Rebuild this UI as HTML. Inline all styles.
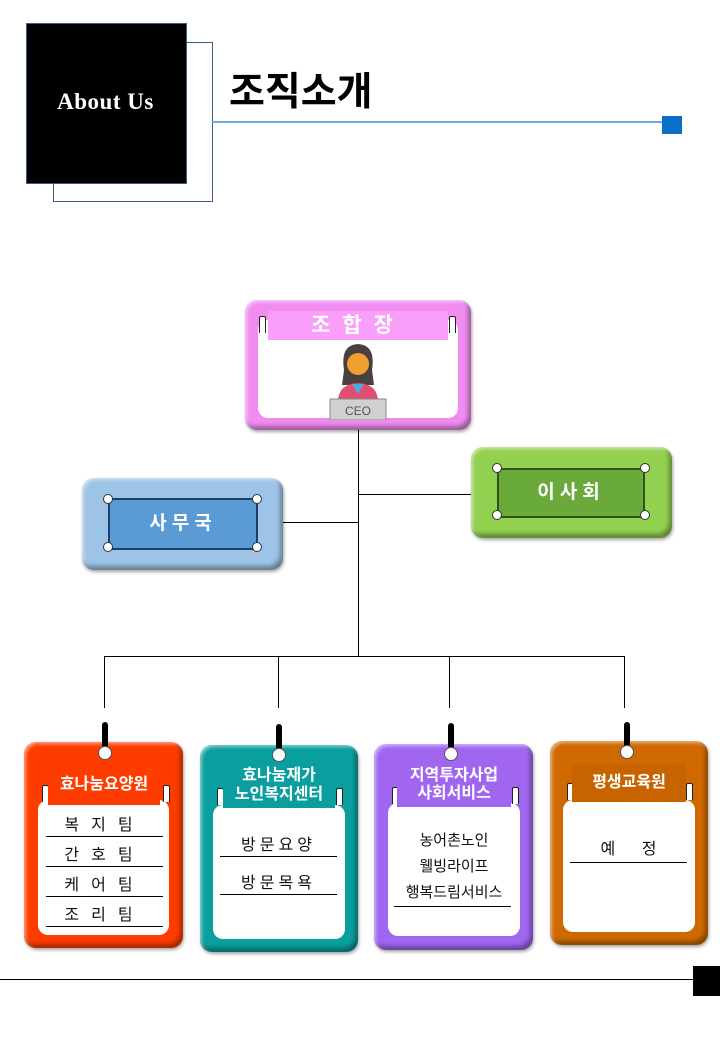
<!DOCTYPE html>
<html><head><meta charset="utf-8"><style>
body{margin:0;width:720px;height:1040px;background:#fff;position:relative;overflow:hidden;font-family:"Liberation Sans","Noto Sans CJK KR",sans-serif}
.a{position:absolute}
.ln{position:absolute;background:#000}
.card{position:absolute;border-radius:12px;box-shadow:inset 2px 2px 3px rgba(255,255,255,.5),inset -3px -4px 4px rgba(0,0,0,.35),1px 2px 3px rgba(0,0,0,.35)}
.inner{position:absolute;background:#fff;border-radius:10px}
.peg{position:absolute;width:6px;height:26px;background:#000;border-radius:3px}
.ring{position:absolute;width:12px;height:12px;border-radius:50%;background:#fff;border:1px solid #555}
.hd{position:absolute;color:#fff;font-weight:bold;text-align:center}
.row{position:absolute;text-align:center;font-size:16px;color:#111;border-bottom:1px solid #000}
.clip{position:absolute;width:5px;height:16px;border:1.5px solid #222;border-bottom:none;background:#fff;border-radius:2px 2px 0 0}
.dot{position:absolute;width:8px;height:8px;border-radius:50%;background:#fff;border:1.5px solid #333}
</style></head><body>
<div class="a" style="left:53px;top:42px;width:158px;height:158px;border:1px solid #3a5a8a"></div>
<div class="a" style="left:26px;top:23px;width:159px;height:159px;background:#000;border:1px solid #3a5a8a"></div>
<div class="a" style="left:26px;top:89px;width:159px;text-align:center;color:#fff;font-family:'Liberation Serif',serif;font-weight:bold;font-size:23px;letter-spacing:0.5px">About Us</div>
<div class="a" style="left:229px;top:64px;font-size:39px;font-weight:bold;color:#000;font-family:'Noto Sans CJK KR',sans-serif;line-height:50px">조직소개</div>
<div class="a" style="left:212px;top:121px;width:452px;height:2px;background:#6fa8d6"></div>
<div class="a" style="left:662px;top:116px;width:20px;height:18px;background:#0b6fc6"></div>

<div class="ln" style="left:358px;top:430px;width:1px;height:227px"></div>
<div class="ln" style="left:358px;top:494px;width:114px;height:1px"></div>
<div class="ln" style="left:283px;top:522px;width:76px;height:1px"></div>
<div class="ln" style="left:104px;top:656px;width:521px;height:1px"></div>
<div class="ln" style="left:104px;top:656px;width:1px;height:52px"></div>
<div class="ln" style="left:278px;top:656px;width:1px;height:52px"></div>
<div class="ln" style="left:449px;top:656px;width:1px;height:52px"></div>
<div class="ln" style="left:624px;top:656px;width:1px;height:52px"></div>

<div class="card" style="left:245px;top:300px;width:226px;height:130px;background:#f08cf0"></div>
<div class="inner" style="left:258px;top:320px;width:200px;height:98px"></div>
<div class="clip" style="left:259px;top:316px"></div><div class="clip" style="left:449px;top:316px"></div>
<div class="hd" style="left:268px;top:311px;width:180px;height:29px;background:#f99ef9;font-size:21px;line-height:29px;letter-spacing:12px">조합장</div>
<svg class="a" style="left:320px;top:340px" width="76" height="80" viewBox="0 0 76 80">
<path d="M24 30 Q20 5 38 4 Q56 5 52 30 L54 45 L22 45Z" fill="#4a4040"/>
<circle cx="38" cy="24" r="11" fill="#f0a030"/>
<path d="M18 62 Q18 44 38 43 Q58 44 58 62Z" fill="#e0506e"/>
<path d="M32 44 L38 54 L44 44Z" fill="#4fa8e0"/>
<rect x="10" y="59" width="56" height="21" fill="#d0d0d0" stroke="#888"/>
<text x="38" y="75" font-size="12" text-anchor="middle" fill="#555" font-family="Liberation Sans">CEO</text>
</svg>

<div class="card" style="left:471px;top:447px;width:201px;height:91px;background:#92d050"></div>
<div class="a" style="left:497px;top:468px;width:148px;height:50px;background:#6aaa3a;border:2px solid #2f5418;box-sizing:border-box;border-radius:3px;color:#fff;font-weight:bold;font-size:19px;text-align:center;line-height:46px;letter-spacing:5px">이사회</div>
<div class="dot" style="left:492px;top:463px"></div><div class="dot" style="left:640px;top:463px"></div>
<div class="dot" style="left:492px;top:510px"></div><div class="dot" style="left:640px;top:510px"></div>

<div class="card" style="left:82px;top:478px;width:201px;height:92px;background:#9dc3e6"></div>
<div class="a" style="left:108px;top:498px;width:150px;height:52px;background:#5b9bd5;border:2px solid #1f3f66;box-sizing:border-box;border-radius:3px;color:#fff;font-weight:bold;font-size:19px;text-align:center;line-height:48px;letter-spacing:5px">사무국</div>
<div class="dot" style="left:103px;top:494px"></div><div class="dot" style="left:252px;top:494px"></div>
<div class="dot" style="left:103px;top:542px"></div><div class="dot" style="left:252px;top:542px"></div>

<div class="card" style="left:24px;top:742px;width:159px;height:206px;background:#ff3c00"></div>
<div class="inner" style="left:38px;top:800px;width:131px;height:135px"></div>
<div class="clip" style="left:42px;top:785px"></div><div class="clip" style="left:163px;top:785px"></div>
<div class="hd" style="left:48px;top:770px;width:112px;height:35px;background:#ff3c00;font-size:16px;line-height:30px">효나눔요양원</div>
<div class="row" style="left:46px;top:815px;width:117px;line-height:21px;letter-spacing:12px">복지팀</div>
<div class="row" style="left:46px;top:845px;width:117px;line-height:21px;letter-spacing:12px">간호팀</div>
<div class="row" style="left:46px;top:875px;width:117px;line-height:21px;letter-spacing:12px">케어팀</div>
<div class="row" style="left:46px;top:905px;width:117px;line-height:21px;letter-spacing:12px">조리팀</div>

<div class="card" style="left:200px;top:745px;width:158px;height:207px;background:#0a9e9e"></div>
<div class="inner" style="left:213px;top:805px;width:132px;height:134px"></div>
<div class="clip" style="left:217px;top:788px"></div><div class="clip" style="left:336px;top:788px"></div>
<div class="hd" style="left:223px;top:766px;width:112px;height:42px;background:#0a9e9e;font-size:16px;line-height:19px">효나눔재가<br>노인복지센터</div>
<div class="row" style="left:220px;top:835px;width:117px;line-height:21px;letter-spacing:4px">방문요양</div>
<div class="row" style="left:220px;top:873px;width:117px;line-height:21px;letter-spacing:4px">방문목욕</div>

<div class="card" style="left:374px;top:744px;width:159px;height:206px;background:#a066f0"></div>
<div class="inner" style="left:388px;top:803px;width:132px;height:133px"></div>
<div class="clip" style="left:392px;top:787px"></div><div class="clip" style="left:512px;top:787px"></div>
<div class="hd" style="left:397px;top:767px;width:114px;height:40px;background:#a066f0;font-size:16px;line-height:18px">지역투자사업<br>사회서비스</div>
<div class="a" style="left:388px;top:828px;width:132px;text-align:center;font-size:15px;line-height:26px;color:#111">농어촌노인<br>웰빙라이프<br>행복드림서비스</div>
<div class="ln" style="left:394px;top:906px;width:117px;height:1px"></div>

<div class="card" style="left:550px;top:741px;width:158px;height:204px;background:#d06a00"></div>
<div class="inner" style="left:563px;top:800px;width:132px;height:132px"></div>
<div class="clip" style="left:567px;top:783px"></div><div class="clip" style="left:686px;top:783px"></div>
<div class="hd" style="left:572px;top:764px;width:114px;height:38px;background:#c86400;font-size:16px;line-height:38px">평생교육원</div>
<div class="a" style="left:570px;top:839px;width:117px;text-align:center;font-size:16px;line-height:21px;color:#111;word-spacing:22px">예 정</div>
<div class="ln" style="left:570px;top:862px;width:117px;height:1px"></div>

<div class="peg" style="left:102px;top:722px"></div><div class="ring" style="left:98px;top:746px"></div>
<div class="peg" style="left:276px;top:724px"></div><div class="ring" style="left:272px;top:748px"></div>
<div class="peg" style="left:448px;top:723px"></div><div class="ring" style="left:444px;top:747px"></div>
<div class="peg" style="left:624px;top:722px"></div><div class="ring" style="left:620px;top:745px"></div>

<div class="ln" style="left:0;top:979px;width:694px;height:1px"></div>
<div class="a" style="left:693px;top:966px;width:27px;height:30px;background:#000"></div>
</body></html>
